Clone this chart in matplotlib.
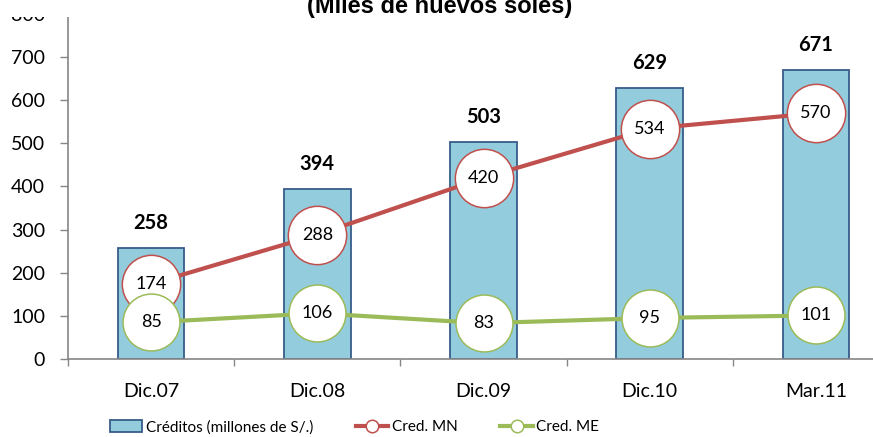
import matplotlib
matplotlib.use("Agg")
from matplotlib import pyplot as plt
from matplotlib.patches import Rectangle, Patch
from matplotlib.lines import Line2D
import numpy as np

plt.rcParams['font.family'] = ['Lato', 'DejaVu Sans']

# Datos
periodos = ['Dic.07', 'Dic.08', 'Dic.09', 'Dic.10', 'Mar.11']
creditos = [258, 394, 503, 629, 671]
cred_mn = [174, 288, 420, 534, 570]
cred_me = [85, 106, 83, 95, 101]

azul_barra = '#93CDDD'
borde_barra = '#385D8A'
rojo = '#C0504D'
verde = '#9BBB59'
gris = '#868686'

fig = plt.figure(figsize=(8.73, 4.37), dpi=100)
ax = fig.add_axes([68 / 873, 1 - 359 / 437, 831 / 873, (359 - 13.9) / 437])

x = np.arange(len(periodos))

# Barras de créditos totales
ax.bar(x, creditos, width=0.40, color=azul_barra, edgecolor=borde_barra,
       linewidth=1.3, zorder=2)
for xi, v in zip(x, creditos):
    ax.annotate(f'{v}', (xi, v), xytext=(0, 18), textcoords='offset points',
                ha='center', va='center', fontsize=14.5, fontweight='bold', zorder=6)

# Líneas MN y ME con círculos grandes
ax.plot(x, cred_mn, color=rojo, linewidth=3, marker='o', markersize=42,
        markerfacecolor='white', markeredgecolor=rojo, markeredgewidth=1.1,
        zorder=3)
ax.plot(x, cred_me, color=verde, linewidth=3, marker='o', markersize=41,
        markerfacecolor='white', markeredgecolor=verde, markeredgewidth=1.1,
        zorder=4)
for xi, v in zip(x, cred_mn):
    ax.text(xi, v, f'{v}', ha='center', va='center', fontsize=13, zorder=5)
for xi, v in zip(x, cred_me):
    ax.text(xi, v, f'{v}', ha='center', va='center', fontsize=13, zorder=5)

ax.set_xlim(-0.5, 4.5)
ax.set_ylim(0, 800)
ax.set_yticks(np.arange(0, 801, 100))
ax.set_xticks(x)
ax.set_xticklabels(periodos)
ax.set_xticks(np.arange(-0.5, 5, 1), minor=True)
ax.tick_params(axis='x', which='major', length=0, pad=17, labelsize=14)
ax.tick_params(axis='x', which='minor', length=5, width=1, color=gris, direction='out')
ax.tick_params(axis='y', length=5.5, width=1, color=gris, labelsize=14, pad=11)

for s in ['top', 'right']:
    ax.spines[s].set_visible(False)
for s in ['left', 'bottom']:
    ax.spines[s].set_color(gris)
    ax.spines[s].set_linewidth(1.2)

# Franja superior en blanco y título
fig.patches.append(Rectangle((0, 1 - 17 / 437), 1, 17 / 437, transform=fig.transFigure,
                             facecolor='white', edgecolor='none', zorder=10))
fig.text(440 / 873, 1 - 13 / 437, '(Miles de nuevos soles)', ha='center', va='baseline',
         fontsize=17, fontweight='bold', family='Liberation Sans', zorder=11)

# Leyenda
handles = [
    Patch(facecolor=azul_barra, edgecolor=borde_barra, linewidth=1.3),
    Line2D([], [], color=rojo, linewidth=3, marker='o', markersize=9,
           markerfacecolor='white', markeredgecolor=rojo, markeredgewidth=1.1),
    Line2D([], [], color=verde, linewidth=3, marker='o', markersize=9,
           markerfacecolor='white', markeredgecolor=verde, markeredgewidth=1.1),
]
labels = ['Créditos (millones de S/.)', 'Cred. MN', 'Cred. ME']
fig.legend(handles, labels, loc='center left', bbox_to_anchor=(110 / 873, 1 - 427 / 437),
           ncol=3, frameon=False, fontsize=11, handlelength=2.1, handletextpad=0.25,
           columnspacing=2.8, borderpad=0, borderaxespad=0, handleheight=0.9)

fig.savefig('out.png', dpi=100)
